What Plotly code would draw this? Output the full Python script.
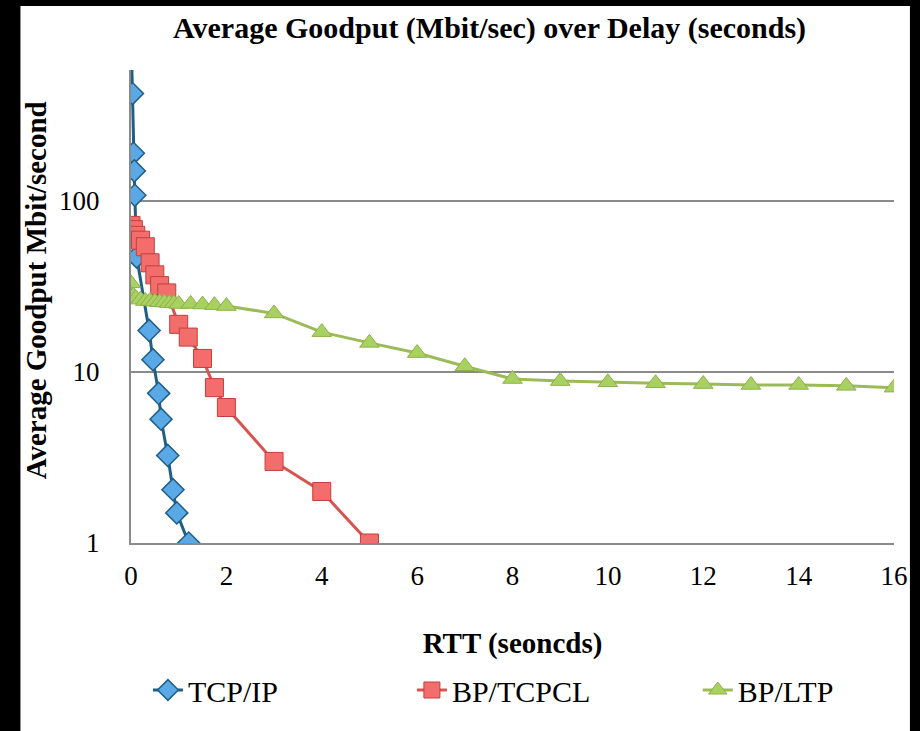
import plotly.graph_objects as go

# ---- data ----
tcp_x = [0, 0.03, 0.05, 0.07, 0.08, 0.12, 0.38, 0.46, 0.58, 0.63, 0.77, 0.88, 0.96, 1.21]
tcp_y = [1000, 425, 190, 150, 108, 47, 17.5, 11.8, 7.5, 5.3, 3.25, 2.05, 1.5, 1.0]

tcpcl_x = [0, 0.05, 0.1, 0.2, 0.3, 0.4, 0.5, 0.6, 0.75, 1.0, 1.2, 1.5, 1.75, 2, 3, 4, 5]
tcpcl_y = [72, 68, 63, 59, 54, 43.5, 37, 32, 29, 19, 16, 12, 8.1, 6.2, 3.0, 2.0, 1.0]

ltp_x = [0, 0.05, 0.1, 0.2, 0.3, 0.4, 0.5, 0.6, 0.7, 0.8, 0.9, 1.0, 1.25, 1.5, 1.75, 2,
         3, 4, 5, 6, 7, 8, 9, 10, 11, 12, 13, 14, 15, 16]
ltp_y = [33, 28, 27, 26.5, 26, 26, 25.8, 25.6, 25.5, 25.3, 25.2, 25, 25, 24.8, 24.6, 24.3,
         22, 17.1, 14.8, 12.9, 10.8, 9.1, 8.85, 8.7, 8.6, 8.5, 8.4, 8.4, 8.3, 8.1]

x_ticks = [0, 2, 4, 6, 8, 10, 12, 14, 16]
y_ticks = [1, 10, 100]

FONT = "Liberation Serif"

fig = go.Figure()
fig.add_trace(go.Scatter(
    x=tcp_x, y=tcp_y, name="TCP/IP", mode="lines+markers",
    line=dict(color="#1f5f85", width=3),
    marker=dict(symbol="diamond", size=17, color="#5aa9e6",
                line=dict(color="#1f5f85", width=1.5)),
    cliponaxis=True, legend="legend"))
fig.add_trace(go.Scatter(
    x=tcpcl_x, y=tcpcl_y, name="BP/TCPCL", mode="lines+markers",
    line=dict(color="#d9534f", width=3),
    marker=dict(symbol="square", size=18, color="#f46d6d",
                line=dict(color="#c0403a", width=1)),
    cliponaxis=True, legend="legend2"))
fig.add_trace(go.Scatter(
    x=ltp_x, y=ltp_y, name="BP/LTP", mode="lines+markers",
    line=dict(color="#9bbb59", width=3),
    marker=dict(symbol="triangle-up", size=17, color="#a9d162",
                line=dict(color="#8db04a", width=1)),
    cliponaxis=True, legend="legend3"))

L, R, T, B = 131, 23, 70, 188
W, H = 920, 731
pw, ph = W - L - R, H - T - B

def px(xp):
    return (xp - L) / pw

def py(yp):
    return (H - B - yp) / ph

fig.add_shape(type="rect", xref="paper", yref="paper",
              x0=px(20), x1=px(913), y0=py(735), y1=py(6),
              fillcolor="white", line=dict(width=0), layer="below")

fig.add_annotation(text="<b>Average Goodput Mbit/second</b>", textangle=-90,
                   xref="paper", yref="paper", x=px(36), y=py(290),
                   xanchor="center", yanchor="middle", showarrow=False,
                   font=dict(family=FONT, size=29, color="black"))

def leg(xpix):
    return dict(orientation="h", x=px(xpix), xanchor="left",
                y=py(690), yanchor="middle",
                font=dict(family=FONT, size=30, color="black"),
                bgcolor="rgba(0,0,0,0)")

fig.update_layout(
    width=W, height=H,
    margin=dict(l=L, r=R, t=T, b=B),
    paper_bgcolor="black", plot_bgcolor="white",
    font=dict(family=FONT, color="black", size=27),
    title=dict(text="<b>Average Goodput (Mbit/sec) over Delay (seconds)</b>",
               x=px(491), xanchor="center", xref="paper",
               y=1 - 27 / H, yanchor="middle",
               font=dict(family=FONT, size=30, color="black")),
    xaxis=dict(range=[0, 16], tickvals=x_ticks, ticktext=[str(v) for v in x_ticks],
               showgrid=False, zeroline=False, showline=True, linecolor="#8a8a8a",
               linewidth=2, ticks="", ticklabelstandoff=8,
               tickfont=dict(family=FONT, size=27, color="black"),
               title=dict(text="<b>RTT (seoncds)</b>", standoff=42,
                          font=dict(family=FONT, size=29, color="black"))),
    yaxis=dict(type="log", range=[0, 2.766], tickvals=y_ticks,
               ticktext=[str(v) for v in y_ticks],
               showgrid=True, gridcolor="#8a8a8a", gridwidth=2,
               zeroline=False, showline=True, linecolor="#8a8a8a", linewidth=2,
               ticks="", ticklabelstandoff=24,
               tickfont=dict(family=FONT, size=27, color="black")),
    legend=leg(148),
    legend2=leg(413),
    legend3=leg(700),
    showlegend=True,
)

fig.write_html("out.html")
